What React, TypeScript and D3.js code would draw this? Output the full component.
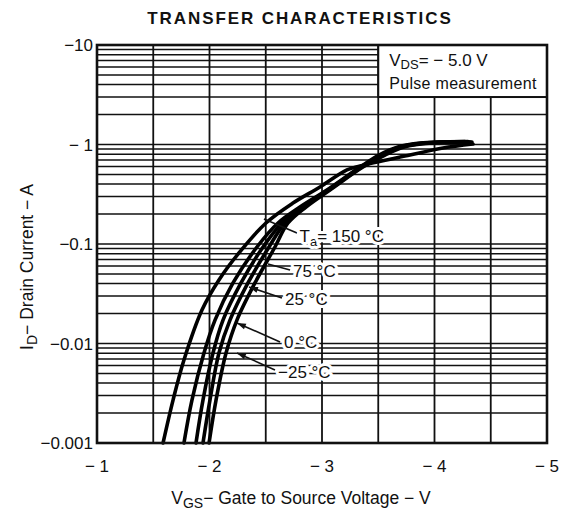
import React from 'react';
import * as d3 from 'd3';

// tick values and labels
const xTicks = [-1, -2, -3, -4, -5];
const xTickLabels = ['− 1', '− 2', '− 3', '− 4', '− 5'];
const yTicks = [-10, -1, -0.1, -0.01, -0.001];
const yTickLabels = ['−10', '− 1', '−0.1', '−0.01', '−0.001'];

// series: VGS (V) and ID (A)
const vgs150 = [-1.587, -1.676, -1.773, -1.933, -2.084, -2.262, -2.502, -2.742, -2.982, -3.222, -3.338, -3.782, -4.076, -4.342];
const id150 = [-0.001, -0.0027, -0.00683, -0.0217, -0.0435, -0.0813, -0.1626, -0.258, -0.374, -0.555, -0.608, -0.784, -0.922, -1.012];

const vgs75 = [-1.773, -1.844, -1.951, -2.049, -2.209, -2.422, -2.609, -2.804, -3.044, -3.338, -3.507, -3.676, -3.871, -4.271];
const id75 = [-0.001, -0.0027, -0.00803, -0.0172, -0.0406, -0.0933, -0.1626, -0.2355, -0.349, -0.594, -0.784, -0.944, -1.035, -1.072];

const vgs25 = [-1.88, -1.942, -2.031, -2.12, -2.28, -2.476, -2.644, -2.822, -3.053, -3.347, -3.524, -3.693, -3.907, -4.298];
const id25 = [-0.001, -0.0027, -0.00803, -0.0172, -0.0406, -0.0933, -0.1626, -0.2355, -0.349, -0.594, -0.784, -0.944, -1.035, -1.072];

const vgs0 = [-1.942, -2.004, -2.084, -2.182, -2.342, -2.529, -2.671, -2.84, -3.062, -3.356, -3.542, -3.711, -3.942, -4.316];
const id0 = [-0.001, -0.0027, -0.00803, -0.0172, -0.0406, -0.0933, -0.1626, -0.2355, -0.349, -0.594, -0.784, -0.944, -1.035, -1.059];

const vgsM25 = [-1.996, -2.058, -2.147, -2.244, -2.404, -2.582, -2.698, -2.858, -3.071, -3.364, -3.56, -3.729, -3.978, -4.333];
const idM25 = [-0.001, -0.0027, -0.00803, -0.0172, -0.0406, -0.0933, -0.1626, -0.2355, -0.349, -0.594, -0.784, -0.944, -1.035, -1.059];

const W = 562;
const H = 511;
const M = { left: 97, right: 547, top: 45, bottom: 443 };
const FONT = '"Liberation Sans", Arial, sans-serif';

export default function App() {
  const x = d3.scaleLinear().domain([-1, -5]).range([M.left, M.right]);
  const y = d3.scaleLog().domain([-10, -0.001]).range([M.top, M.bottom]);

  // log grid: 1..9 per decade
  const hGrid: number[] = [-10];
  for (let k = -3; k <= 0; k++) {
    for (let m = 1; m <= 9; m++) hGrid.push(-m * Math.pow(10, k));
  }
  const vGrid = d3.range(-1, -5.01, -0.5);

  const line = d3
    .line<[number, number]>()
    .x((d) => x(d[0]))
    .y((d) => y(d[1]))
    .curve(d3.curveCatmullRom.alpha(0.5));

  const series = [
    [vgs150, id150],
    [vgs75, id75],
    [vgs25, id25],
    [vgs0, id0],
    [vgsM25, idM25],
  ].map(([v, i]) => v.map((vv, k) => [vv, i[k]] as [number, number]));

  // annotation anchors in data units: text pos, leader start, leader end
  const notes = [
    { t: 'Ta', at: [-2.80, -0.105], from: [-2.778, -0.129], to: [-2.484, -0.178], arrow: false },
    { t: '75 °C', at: [-2.742, -0.0466], from: [-2.716, -0.0548], to: [-2.52, -0.063], arrow: false },
    { t: '25 °C', at: [-2.671, -0.0244], from: [-2.644, -0.0286], to: [-2.351, -0.037], arrow: true },
    { t: '0 °C', at: [-2.662, -0.009], from: [-2.627, -0.01035], to: [-2.244, -0.0161], arrow: true },
    { t: '−25 °C', at: [-2.609, -0.0045], from: [-2.582, -0.00542], to: [-2.244, -0.00804], arrow: true },
  ];

  const arrowHead = (x1: number, y1: number, x2: number, y2: number) => {
    const a = Math.atan2(y2 - y1, x2 - x1);
    const L = 9;
    const w = 3;
    const bx = x2 - L * Math.cos(a);
    const by = y2 - L * Math.sin(a);
    const px = -Math.sin(a) * w;
    const py = Math.cos(a) * w;
    return `M${x2},${y2}L${bx + px},${by + py}L${bx - px},${by - py}Z`;
  };

  const box = { x0: x(-3.5), x1: x(-5), y0: y(-10), y1: y(-3) };

  return (
    <svg
      width={W}
      height={H}
      style={{ position: 'absolute', left: 0, top: 0, background: '#fff' }}
      fontFamily={FONT}
    >
      <rect x={0} y={0} width={W} height={H} fill="#fff" />
      <text x={300} y={24} textAnchor="middle" fontSize={17} fontWeight="bold" letterSpacing={1.9} fill="#111">
        TRANSFER CHARACTERISTICS
      </text>

      {/* grid */}
      {hGrid.map((v, i) => (
        <line key={'h' + i} x1={M.left} x2={M.right} y1={y(v)} y2={y(v)} stroke="#111" strokeWidth={1.5} />
      ))}
      {vGrid.map((v, i) => (
        <line key={'v' + i} x1={x(v)} x2={x(v)} y1={M.top} y2={M.bottom} stroke="#111" strokeWidth={1.8} />
      ))}

      {/* curves */}
      {series.map((s, i) => (
        <path key={'c' + i} d={line(s) || ''} fill="none" stroke="#000" strokeWidth={3.6} strokeLinecap="round" />
      ))}

      {/* legend box */}
      <rect x={box.x0} y={box.y0} width={box.x1 - box.x0} height={box.y1 - box.y0} fill="#fff" stroke="#111" strokeWidth={2} />
      <text x={box.x0 + 11} y={box.y0 + 21} fontSize={17} fill="#111">
        V<tspan fontSize={13} dy={3}>DS</tspan>
        <tspan dy={-3}>= − 5.0 V</tspan>
      </text>
      <text x={box.x0 + 11} y={box.y0 + 44} fontSize={16} letterSpacing={0.3} fill="#111">
        Pulse measurement
      </text>

      {/* frame */}
      <rect x={M.left} y={M.top} width={M.right - M.left} height={M.bottom - M.top} fill="none" stroke="#111" strokeWidth={2.6} />

      {/* annotations */}
      {notes.map((n, i) => {
        const x1 = x(n.from[0]);
        const y1 = y(n.from[1]);
        const x2 = x(n.to[0]);
        const y2 = y(n.to[1]);
        return (
          <g key={'n' + i}>
            <line x1={x1} y1={y1} x2={x2} y2={y2} stroke="#111" strokeWidth={1.6} />
            {n.arrow && <path d={arrowHead(x1, y1, x2, y2)} fill="#111" />}
            <text
              x={x(n.at[0])}
              y={y(n.at[1])}
              fontSize={17}
              fill="#111"
              stroke="#fff"
              strokeWidth={6}
              paintOrder="stroke"
              strokeLinejoin="round"
            >
              {n.t === 'Ta' ? (
                <>
                  T<tspan fontSize={13} dy={4}>a</tspan>
                  <tspan dy={-4}>= 150 °C</tspan>
                </>
              ) : (
                n.t
              )}
            </text>
          </g>
        );
      })}

      {/* tick labels */}
      {yTicks.map((v, i) => (
        <text key={'yt' + i} x={M.left - 4} y={y(v) + 6} textAnchor="end" fontSize={17} fill="#111">
          {yTickLabels[i]}
        </text>
      ))}
      {xTicks.map((v, i) => (
        <text key={'xt' + i} x={x(v)} y={M.bottom + 29} textAnchor="middle" fontSize={17} fill="#111">
          {xTickLabels[i]}
        </text>
      ))}

      {/* axis titles */}
      <text x={301} y={504} textAnchor="middle" fontSize={17.5} fill="#111">
        V<tspan fontSize={14} dy={4}>GS</tspan>
        <tspan dy={-4}>− Gate to Source Voltage − V</tspan>
      </text>
      <text transform={`translate(33, 267) rotate(-90)`} textAnchor="middle" fontSize={17.5} fill="#111">
        I<tspan fontSize={14} dy={4}>D</tspan>
        <tspan dy={-4}>− Drain Current − A</tspan>
      </text>
    </svg>
  );
}
